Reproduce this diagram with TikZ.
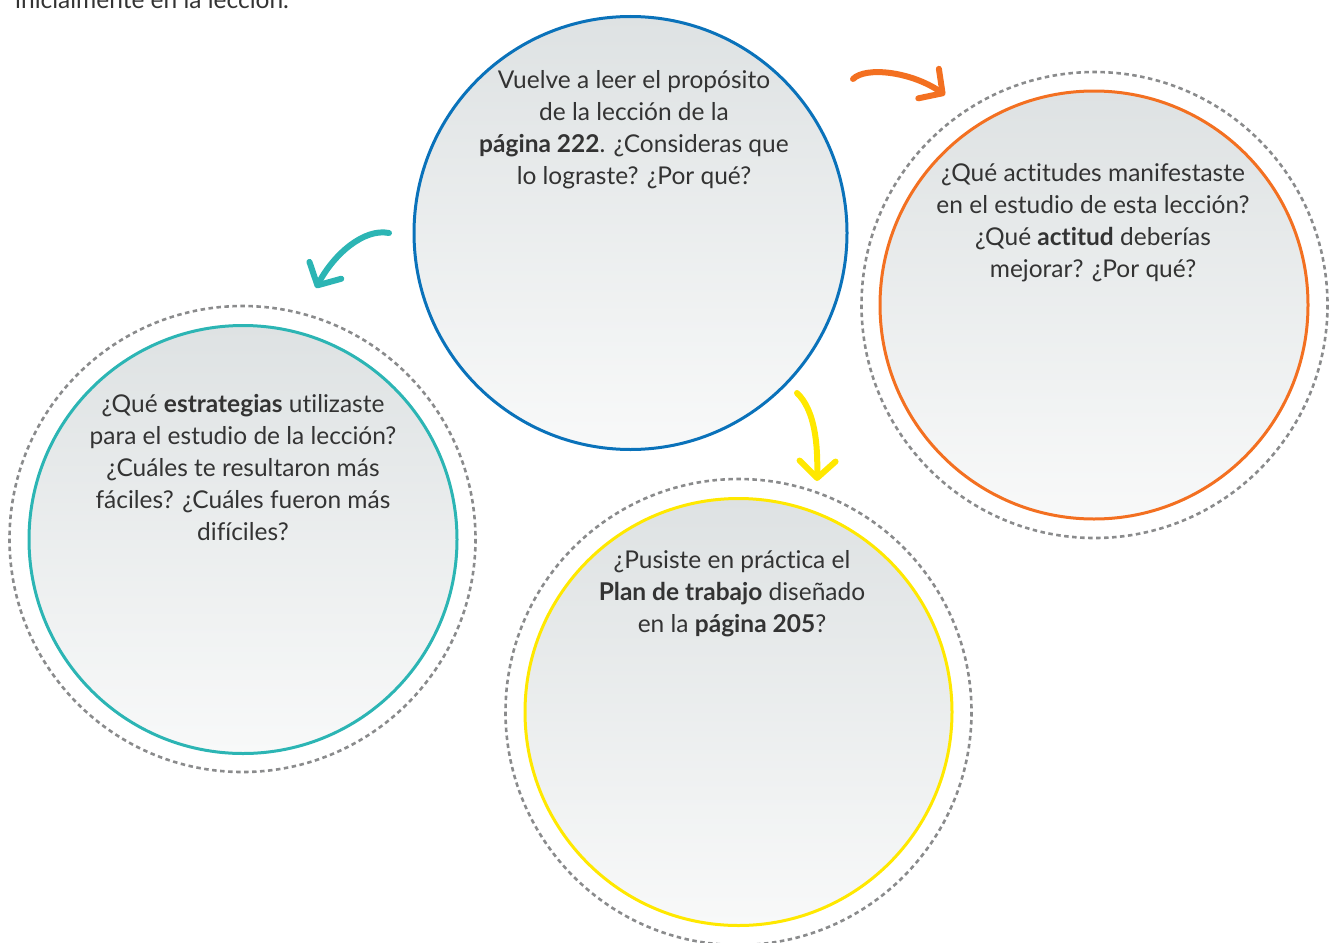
\documentclass[tikz,border=0pt]{standalone}
\usepackage{fontspec}
\setmainfont{Lato}[Ligatures=NoCommon]
\usetikzlibrary{arrows.meta}
\definecolor{bluec}{HTML}{0A72BA}
\definecolor{orangec}{HTML}{F37021}
\definecolor{tealc}{HTML}{2CB5B4}
\definecolor{yellowc}{HTML}{FFE800}
\definecolor{dashc}{HTML}{8A8B8C}
\definecolor{txt}{HTML}{333333}
\definecolor{fillt}{HTML}{DEE2E3}
\definecolor{fillb}{HTML}{F8F9F9}
\tikzset{
  circ/.style={line width=3pt, top color=fillt, bottom color=fillb},
  ring/.style={draw=dashc, line width=2.6pt, dash pattern=on 4.5pt off 3.5pt},
  lbl/.style={align=center, text=txt, font=\fontsize{24.5}{32}\selectfont, inner sep=0pt},
  curvy/.style={line width=6pt, line cap=round, line join=round,
    -{Straight Barb[length=17pt,width=36pt,line cap=round,line join=round]}},
}
\begin{document}
\begin{tikzpicture}[x=1pt,y=-1pt]
\useasboundingbox (0,0) rectangle (1337,942);
% top text
\node[lbl, anchor=base west] (top) at (15,9) {inicialmente en la lección.};
% rings
\draw[ring] (1094.5,305) circle (233);
\draw[ring] (242.5,539) circle (233);
\draw[ring] (738.5,712) circle (233);
% circles
\path[circ, draw=bluec] (630.5,233) circle (216.5);
\path[circ, draw=orangec] (1094,305) circle (214);
\path[circ, draw=tealc] (243,539.5) circle (214);
\path[circ, draw=yellowc] (738.5,712) circle (213.5);
% labels (anchor base = baseline of last line)
\node[lbl, anchor=base] (tb) at (634,184) {Vuelve a leer el propósito\\de la lección de la\\\textbf{página 222}. ¿Consideras que\\lo lograste? ¿Por qué?};
\node[lbl, anchor=base] (to) at (1093,277) {¿Qué actitudes manifestaste\\en el estudio de esta lección?\\¿Qué \textbf{actitud} deberías\\mejorar? ¿Por qué?};
\node[lbl, anchor=base] (tt) at (243,540) {¿Qué \textbf{estrategias} utilizaste\\para el estudio de la lección?\\¿Cuáles te resultaron más\\fáciles? ¿Cuáles fueron más\\difíciles?};
\node[lbl, anchor=base] (ty) at (732,632) {¿Pusiste en práctica el\\\textbf{Plan de trabajo} diseñado\\en la \textbf{página 205}?};
% arrows
\coordinate (oa) at (853,79);
\coordinate (ob) at (945,95);
\coordinate (ta) at (389,233);
\coordinate (tb2) at (316,288);
\coordinate (ya) at (797,393);
\coordinate (yb) at (817,481);
\draw[curvy, orangec] (oa) .. controls (866,66) and (912,72) .. (ob);
\draw[curvy, tealc] (ta) .. controls (364,228) and (334,254) .. (tb2);
\draw[curvy, yellowc] (ya) .. controls (815,410) and (818,445) .. (yb);
\end{tikzpicture}
\end{document}
